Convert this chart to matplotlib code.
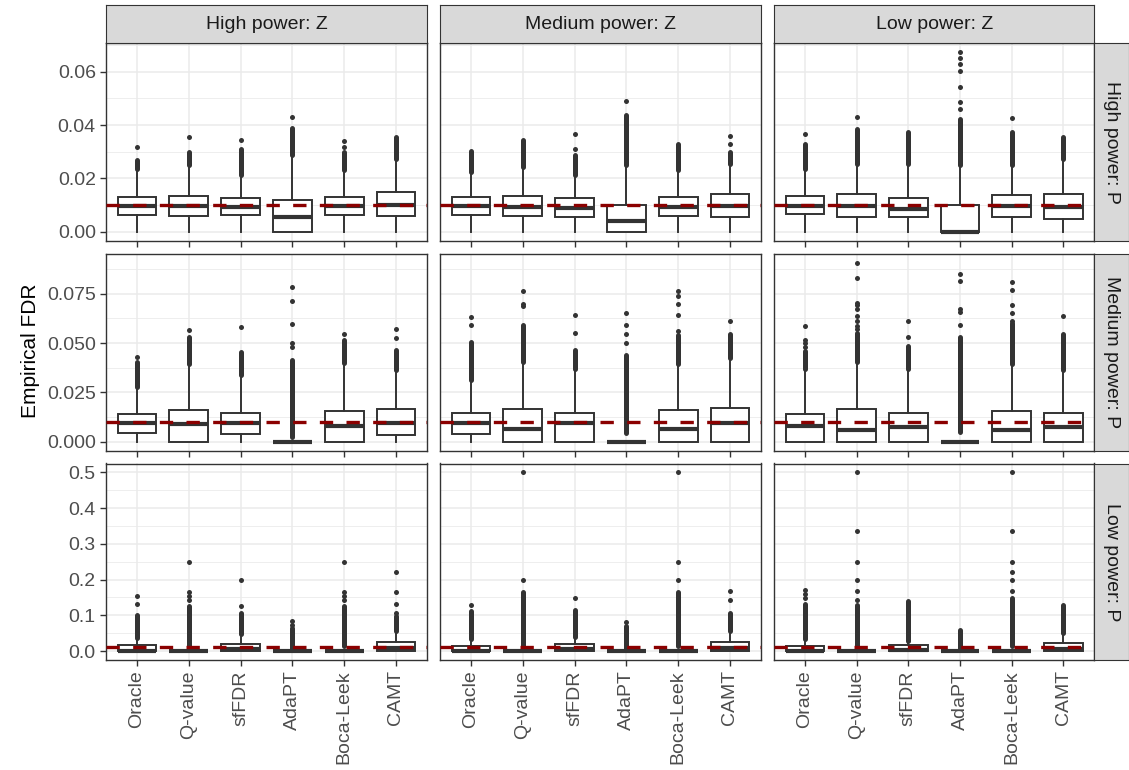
#!/usr/bin/env python3
"""Empirical FDR boxplots, faceted by power of Z (columns) and P (rows)."""

import matplotlib
matplotlib.use('Agg')
import matplotlib.pyplot as plt

plt.rcParams.update({
    'font.family': ['Liberation Sans', 'DejaVu Sans'],
    'font.size': 14,
    'figure.facecolor': 'white',
})

METHODS = ['Oracle', 'Q-value', 'sfFDR', 'AdaPT', 'Boca-Leek', 'CAMT']
Z_LEVELS = ['High power: Z', 'Medium power: Z', 'Low power: Z']
P_LEVELS = ['High power: P', 'Medium power: P', 'Low power: P']
TARGET_FDR = 0.01

# box statistics, indexed [row P][col Z][method]
Q1 = [
    [[0.0062, 0.0059, 0.0062, 0.0, 0.0062, 0.0059],
     [0.0062, 0.0059, 0.0056, 0.0, 0.0059, 0.0054],
     [0.0065, 0.0054, 0.0054, 0.0, 0.0056, 0.0047]],
    [[0.0042, 0.0, 0.0037, 0.0, 0.0, 0.0034],
     [0.0039, 0.0, 0.0, 0.0, 0.0, 0.0],
     [0.0, 0.0, 0.0, 0.0, 0.0, 0.0]],
    [[0.0, 0.0, 0.0, 0.0, 0.0, 0.0],
     [0.0, 0.0, 0.0, 0.0, 0.0, 0.0],
     [0.0, 0.0, 0.0, 0.0, 0.0, 0.0]],
]
MEDIAN = [
    [[0.0097, 0.0097, 0.0093, 0.0056, 0.0097, 0.0101],
     [0.0096, 0.0093, 0.0090, 0.0040, 0.0093, 0.0097],
     [0.0096, 0.0097, 0.0085, 0.0, 0.0096, 0.0093]],
    [[0.0093, 0.0088, 0.0093, 0.0, 0.0081, 0.0093],
     [0.0096, 0.0066, 0.0093, 0.0, 0.0066, 0.0093],
     [0.0081, 0.0059, 0.0076, 0.0, 0.0059, 0.0073]],
    [[0.0, 0.0, 0.005, 0.0, 0.0, 0.008],
     [0.0, 0.0, 0.005, 0.0, 0.0, 0.008],
     [0.0, 0.0, 0.004, 0.0, 0.0, 0.006]],
]
Q3 = [
    [[0.0131, 0.0135, 0.0127, 0.0118, 0.0131, 0.0150],
     [0.0131, 0.0135, 0.0125, 0.0102, 0.0131, 0.0140],
     [0.0135, 0.0140, 0.0128, 0.0102, 0.0137, 0.0143]],
    [[0.0140, 0.0160, 0.0147, 0.0, 0.0157, 0.0165],
     [0.0148, 0.0164, 0.0148, 0.0, 0.0160, 0.0169],
     [0.0143, 0.0164, 0.0148, 0.0, 0.0157, 0.0147]],
    [[0.016, 0.0, 0.020, 0.0, 0.0, 0.025],
     [0.014, 0.0, 0.020, 0.0, 0.0, 0.025],
     [0.015, 0.0, 0.017, 0.0, 0.0, 0.023]],
]
WHISKER_HI = [
    [[0.0235, 0.0249, 0.0212, 0.0287, 0.0230, 0.0274],
     [0.0224, 0.0243, 0.0212, 0.0249, 0.0230, 0.0255],
     [0.0237, 0.0255, 0.0255, 0.0249, 0.0249, 0.0274]],
    [[0.0278, 0.0396, 0.0337, 0.0, 0.0400, 0.0363],
     [0.0312, 0.0405, 0.0371, 0.0, 0.0396, 0.0422],
     [0.0371, 0.0405, 0.0371, 0.0, 0.0396, 0.0363]],
    [[0.037, 0.0, 0.047, 0.0, 0.0, 0.056],
     [0.033, 0.0, 0.040, 0.0, 0.0, 0.056],
     [0.033, 0.0, 0.028, 0.0, 0.0, 0.051]],
]
# dense runs of outliers: from OUT_LO up to OUT_HI
OUT_LO = [
    [[0.0235, 0.0249, 0.0212, 0.0287, 0.0230, 0.0274],
     [0.0224, 0.0243, 0.0212, 0.0249, 0.0230, 0.0255],
     [0.0237, 0.0255, 0.0255, 0.0249, 0.0249, 0.0274]],
    [[0.0278, 0.0396, 0.0337, 0.0025, 0.0400, 0.0363],
     [0.0312, 0.0405, 0.0371, 0.0042, 0.0396, 0.0422],
     [0.0371, 0.0405, 0.0371, 0.0050, 0.0396, 0.0363]],
    [[0.037, 0.014, 0.047, 0.005, 0.014, 0.056],
     [0.033, 0.014, 0.040, 0.005, 0.014, 0.056],
     [0.033, 0.014, 0.028, 0.005, 0.014, 0.051]],
]
OUT_HI = [
    [[0.0270, 0.0300, 0.0310, 0.0390, 0.0300, 0.0355],
     [0.0303, 0.0343, 0.0287, 0.0436, 0.0328, 0.0300],
     [0.0330, 0.0386, 0.0374, 0.0424, 0.0374, 0.0355]],
    [[0.0405, 0.0530, 0.0455, 0.0413, 0.0515, 0.0464],
     [0.0506, 0.0590, 0.0464, 0.0439, 0.0540, 0.0548],
     [0.0460, 0.0550, 0.0484, 0.0531, 0.0600, 0.0548]],
    [[0.102, 0.125, 0.107, 0.065, 0.125, 0.098],
     [0.112, 0.166, 0.116, 0.070, 0.166, 0.107],
     [0.133, 0.130, 0.140, 0.060, 0.149, 0.130]],
]
# isolated outliers above the dense runs
OUT_EXTRA = [
    [[[0.0318], [0.0355], [0.0343], [0.0432], [0.0318, 0.0339], []],
     [[], [], [0.0312, 0.0365], [0.0492], [], [0.0330, 0.0358]],
     [[0.0365], [0.0430], [], [0.046, 0.0486, 0.0542, 0.0602, 0.063, 0.0652, 0.0673],
      [0.0426], []]],
    [[[0.043], [0.0568], [0.0579], [0.048, 0.050, 0.0599, 0.0712, 0.0783], [0.0545],
      [0.0528, 0.0572]],
     [[0.0594, 0.0634], [0.0688, 0.0700, 0.0766], [0.0552, 0.0641],
      [0.050, 0.0548, 0.059, 0.065], [0.0563, 0.0641, 0.070, 0.0739, 0.0766], [0.0612]],
     [[0.0480, 0.0500, 0.0515, 0.0585],
      [0.0573, 0.0585, 0.0612, 0.0636, 0.0675, 0.0695, 0.0705, 0.0832, 0.0906],
      [0.0531, 0.0612], [0.059, 0.0658, 0.0675, 0.0815, 0.0852],
      [0.0612, 0.065, 0.0695, 0.0768, 0.0808], [0.0636]]],
    [[[0.133, 0.154], [0.143, 0.154, 0.166, 0.25], [0.126, 0.2], [0.074, 0.084],
      [0.143, 0.154, 0.166, 0.25], [0.107, 0.133, 0.166, 0.222]],
     [[0.130], [0.2, 0.5], [0.149], [0.081], [0.2, 0.25, 0.5], [0.142, 0.168]],
     [[0.148, 0.160, 0.172], [0.142, 0.168, 0.2, 0.25, 0.335, 0.5], [], [],
      [0.168, 0.2, 0.222, 0.25, 0.335, 0.5], []]],
]

Y_TICKS = [[0.0, 0.02, 0.04, 0.06],
           [0.0, 0.025, 0.05, 0.075],
           [0.0, 0.1, 0.2, 0.3, 0.4, 0.5]]
Y_TICKLABELS = [['0.00', '0.02', '0.04', '0.06'],
                ['0.000', '0.025', '0.050', '0.075'],
                ['0.0', '0.1', '0.2', '0.3', '0.4', '0.5']]

DARK = '#333333'
GRID = '#EBEBEB'
STRIP_FILL = '#D9D9D9'
LINE_RED = '#8B0000'

W, H = 1129, 770
COL_X = [(106, 427), (440, 761), (774, 1094.3)]
ROW_Y = [(43.3, 240.7), (254, 450.7), (463.5, 660)]


def rect(x0, y0, x1, y1):
    return [x0 / W, 1 - y1 / H, (x1 - x0) / W, (y1 - y0) / H]


fig = plt.figure(figsize=(W / 100, H / 100), dpi=100)

pos = list(range(1, len(METHODS) + 1))
for r in range(3):
    # shared y range per row, ggplot style 5% expansion
    vals = [v for c in range(3) for m in range(6)
            for v in [OUT_HI[r][c][m]] + OUT_EXTRA[r][c][m]]
    ymax = max(vals)
    pad = ymax * 0.05
    ticks = Y_TICKS[r]
    step = ticks[1] - ticks[0]
    minor = [t + step / 2 for t in ticks]
    for c in range(3):
        ax = fig.add_axes(rect(COL_X[c][0], ROW_Y[r][0], COL_X[c][1], ROW_Y[r][1]))
        ax.set_xlim(0.4, 6.6)
        ax.set_ylim(-pad, ymax + pad)

        for t in minor:
            ax.axhline(t, color=GRID, lw=0.6, zorder=0)
        for t in ticks:
            ax.axhline(t, color=GRID, lw=1.1, zorder=0)
        for p in pos:
            ax.axvline(p, color=GRID, lw=1.1, zorder=0)

        stats = []
        for m in range(6):
            stats.append(dict(med=MEDIAN[r][c][m], q1=Q1[r][c][m], q3=Q3[r][c][m],
                              whislo=0.0, whishi=WHISKER_HI[r][c][m], fliers=[]))
        ax.bxp(stats, positions=pos, widths=0.75, showfliers=False, showcaps=False,
               patch_artist=True, manage_ticks=False,
               boxprops=dict(facecolor='white', edgecolor=DARK, linewidth=1.4),
               whiskerprops=dict(color=DARK, linewidth=1.4),
               medianprops=dict(color=DARK, linewidth=3.0, solid_capstyle='butt'))

        # outliers: dense columns drawn as a run of overlapping dots
        ax.vlines(pos, OUT_LO[r][c], OUT_HI[r][c], colors=DARK, lw=3.6,
                  capstyle='round', zorder=3)
        for m in range(6):
            ex = OUT_EXTRA[r][c][m]
            if ex:
                ax.plot([pos[m]] * len(ex), ex, 'o', color=DARK, ms=3.6,
                        mec='none', zorder=3)

        ax.axhline(TARGET_FDR, color=LINE_RED, lw=2.4, dashes=(4, 4), zorder=4)

        for s in ax.spines.values():
            s.set_color(DARK)
            s.set_linewidth(1.0)
        ax.tick_params(color=DARK, length=4.3, width=1.0, labelcolor='#4D4D4D',
                       labelsize=14, pad=3)
        ax.set_xticks(pos)
        if r == 2:
            ax.set_xticklabels(METHODS, rotation=90)
        else:
            ax.set_xticklabels([])
        ax.set_yticks(ticks)
        if c == 0:
            ax.set_yticklabels(Y_TICKLABELS[r])
        else:
            ax.tick_params(axis='y', length=0)
            ax.set_yticklabels([])

# strips
for c in range(3):
    sax = fig.add_axes(rect(COL_X[c][0], 5, COL_X[c][1], ROW_Y[0][0]))
    sax.set_facecolor(STRIP_FILL)
    sax.set_xticks([])
    sax.set_yticks([])
    for s in sax.spines.values():
        s.set_color(DARK)
    sax.text(0.5, 0.5, Z_LEVELS[c], ha='center', va='center', fontsize=14,
             color='#1A1A1A', transform=sax.transAxes)
for r in range(3):
    sax = fig.add_axes(rect(1094.3, ROW_Y[r][0], 1128.5, ROW_Y[r][1]))
    sax.set_facecolor(STRIP_FILL)
    sax.set_xticks([])
    sax.set_yticks([])
    for s in sax.spines.values():
        s.set_color(DARK)
    sax.text(0.5, 0.5, P_LEVELS[r], ha='center', va='center', fontsize=14,
             color='#1A1A1A', rotation=-90, transform=sax.transAxes)

fig.text(30 / W, 1 - 351 / H, 'Empirical FDR', rotation=90, ha='center',
         va='center', fontsize=15, color='black')

fig.savefig('out.png', dpi=100)
